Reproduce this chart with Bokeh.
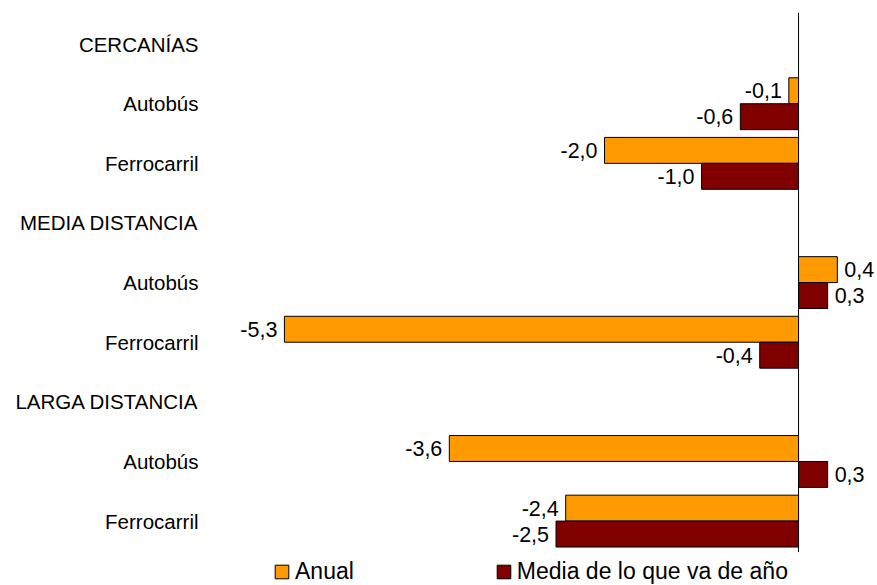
from bokeh.plotting import figure
from bokeh.models import ColumnDataSource, Range1d, FixedTicker, Legend, LegendItem
from bokeh.embed import file_html
from bokeh.resources import INLINE
from bokeh.core.properties import value

# ---- data ----
row_labels = ["CERCANÍAS", "Autobús", "Ferrocarril",
              "MEDIA DISTANCIA", "Autobús", "Ferrocarril",
              "LARGA DISTANCIA", "Autobús", "Ferrocarril"]
anual = [None, -0.1, -2.0, None, 0.4, -5.3, None, -3.6, -2.4]
media = [None, -0.6, -1.0, None, 0.3, -0.4, None, 0.3, -2.5]
series_names = ["Anual", "Media de lo que va de año"]
colors = ["#FF9900", "#800000"]

FONT = "Liberation Sans"
BAR_H = 0.435
Y_TOP = -0.53
Y_AXIS_END = 8.52


def fmt(v):
    return ("%.1f" % v).replace(".", ",")


def build(vals, offset):
    ys, xs, labs, aligns, offs = [], [], [], [], []
    for i, v in enumerate(vals):
        if v is None:
            continue
        ys.append(i + offset)
        xs.append(v)
        labs.append(fmt(v))
        aligns.append("right" if v < 0 else "left")
        offs.append(-7 if v < 0 else 7)
    return ColumnDataSource(dict(y=ys, right=xs, label=labs, align=aligns, xoff=offs))


p = figure(width=877, height=585, output_backend="svg", toolbar_location=None,
           x_range=Range1d(-6.103, 0.814), y_range=Range1d(9.08, Y_TOP),
           min_border_left=206, min_border_right=0, min_border_top=12,
           min_border_bottom=0)
p.outline_line_color = None
p.grid.visible = False
p.xaxis.visible = False

yax = p.yaxis[0]
yax.ticker = FixedTicker(ticks=list(range(len(row_labels))))
yax.major_label_overrides = {i: t for i, t in enumerate(row_labels)}
yax.axis_line_color = None
yax.major_tick_line_color = None
yax.minor_tick_line_color = None
yax.major_tick_out = 0
yax.major_tick_in = 0
yax.major_label_standoff = 8
yax.major_label_text_font = FONT
yax.major_label_text_font_size = "20.5px"
yax.major_label_text_color = "#000000"

# zero reference line
p.segment(x0=[0], y0=[Y_TOP], x1=[0], y1=[Y_AXIS_END], line_color="black", line_width=1)

renderers = []
for vals, off, col in [(anual, -BAR_H / 2, colors[0]), (media, BAR_H / 2, colors[1])]:
    src = build(vals, off)
    r = p.hbar(y="y", left=0, right="right", height=BAR_H, source=src,
               fill_color=col, line_color="black", line_width=1)
    renderers.append(r)
    p.text(x="right", y="y", text="label", source=src, text_align="align",
           x_offset="xoff", text_baseline="middle", text_font=value(FONT),
           text_font_size="21.5px", text_color="black")

legend = Legend(items=[LegendItem(label=series_names[0], renderers=[renderers[0]]),
                       LegendItem(label=series_names[1], renderers=[renderers[1]])],
                orientation="horizontal", location=(67, 0))
legend.border_line_color = None
legend.background_fill_alpha = 0
legend.padding = 0
legend.margin = 0
legend.spacing = 141
legend.glyph_width = 17
legend.glyph_height = 17
legend.label_standoff = 5
legend.label_text_font = FONT
legend.label_text_font_size = "23px"
legend.label_text_color = "#000000"
legend.label_height = 17
p.add_layout(legend, "center")

open("out.html", "w").write(file_html(p, INLINE))
